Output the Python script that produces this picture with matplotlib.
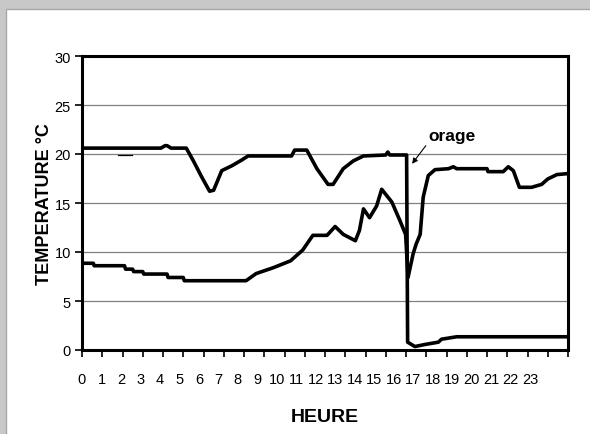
"""
Températures sur 24 h avec le passage de l'orage vers 16 h.
"""

import matplotlib
matplotlib.use("Agg")
import matplotlib.pyplot as plt
from matplotlib.patches import Rectangle

# --- données (heure, °C) ---
heure_haut = [0.0, 3.9, 4.1, 4.2, 4.4, 5.15, 5.5, 5.9, 6.3, 6.5, 6.9, 7.4, 7.9, 8.2,
              10.35, 10.5, 11.1, 11.6, 12.15, 12.4, 12.9, 13.4, 13.9, 15.0, 15.1,
              15.2, 16.03, 16.08, 16.44, 16.9, 17.6, 17.75, 18.5, 24.0]
temp_haut = [20.6, 20.6, 20.85, 20.85, 20.6, 20.6, 19.3, 17.7, 16.2, 16.3, 18.3, 18.8,
             19.4, 19.8, 19.8, 20.4, 20.4, 18.5, 16.9, 16.9, 18.5, 19.3, 19.8, 19.9,
             20.2, 19.9, 19.9, 0.8, 0.35, 0.55, 0.8, 1.1, 1.35, 1.35]

heure_bas = [0.0, 0.56, 0.6, 2.1, 2.15, 2.5, 2.55, 3.0, 3.05, 4.2, 4.25, 5.0, 5.05,
             8.1, 8.6, 9.45, 10.3, 10.9, 11.4, 12.1, 12.5, 12.9, 13.5, 13.7, 13.9,
             14.2, 14.55, 14.8, 15.3, 15.7, 15.98, 16.1, 16.35, 16.5, 16.7, 16.85,
             17.1, 17.43, 18.1, 18.34, 18.5, 20.0, 20.05, 20.8, 21.05, 21.3, 21.6,
             22.2, 22.7, 23.0, 23.45, 24.0]
temp_bas = [8.85, 8.85, 8.6, 8.6, 8.25, 8.25, 8.0, 8.0, 7.75, 7.75, 7.4, 7.4, 7.07,
            7.07, 7.8, 8.4, 9.1, 10.2, 11.7, 11.7, 12.6, 11.8, 11.15, 12.2, 14.4,
            13.5, 14.7, 16.4, 15.1, 13.2, 11.8, 7.4, 9.8, 10.8, 11.8, 15.6, 17.8,
            18.4, 18.5, 18.7, 18.5, 18.5, 18.2, 18.2, 18.7, 18.3, 16.6, 16.6, 16.9,
            17.45, 17.9, 18.0]

# petit trait isolé vers 2 h
heure_trait = [1.8, 2.48]
temp_trait = [19.9, 19.9]

heures_labels = [str(h) for h in range(24)]
y_ticks = [0, 5, 10, 15, 20, 25, 30]

FONT = "Liberation Sans"

# --- figure ---
fig = plt.figure(figsize=(5.9, 4.35), dpi=100)
fig.patch.set_facecolor("#c8c8c8")
fig.patches.append(Rectangle((6 / 590, -0.01), 1, 0.01 + (435 - 10) / 435,
                             transform=fig.transFigure, facecolor="white",
                             edgecolor="#a8a8a8", lw=1, zorder=-5))

ax = fig.add_axes([82 / 590, (435 - 351) / 435, (568 - 82) / 590, (351 - 57) / 435])
ax.set_facecolor("white")

ax.plot(heure_haut, temp_haut, color="black", lw=2.6, solid_joinstyle="round", zorder=3)
ax.plot(heure_bas, temp_bas, color="black", lw=2.6, solid_joinstyle="round", zorder=3)
ax.plot(heure_trait, temp_trait, color="black", lw=0.9, zorder=3)

ax.set_xlim(0, 24)
ax.set_ylim(0, 30)

# axe Y
ax.set_yticks(y_ticks)
ax.set_yticklabels([str(v) for v in y_ticks], fontsize=10.5, family=FONT)
ax.tick_params(axis="y", direction="out", length=5, width=1.2, pad=3)
ax.grid(axis="y", color="#808080", lw=0.9)
ax.set_axisbelow(True)

# axe X : graduations aux heures, étiquettes un peu resserrées (comme Excel)
ax.xaxis.remove_overlapping_locs = False
ax.set_xticks(range(25))
ax.set_xticklabels([])
ax.tick_params(axis="x", which="major", direction="out", length=5, width=1.2,
               color="black")
ax.set_xticks([h * 0.962 for h in range(24)], minor=True)
ax.set_xticklabels(heures_labels, minor=True, fontsize=10.5, family=FONT)
ax.tick_params(axis="x", which="minor", length=0, pad=16)

for s in ax.spines.values():
    s.set_linewidth(2.2)
    s.set_color("black")

ax.set_xlabel("HEURE", fontsize=14, fontweight="bold", family=FONT, labelpad=16)
ax.set_ylabel("TEMPERATURE °C", fontsize=13, fontweight="bold", family=FONT, labelpad=1)

ax.annotate("orage", xy=(16.3, 19.0), xytext=(18.25, 21.9),
            ha="center", va="center", fontsize=12.5, fontweight="bold", family=FONT,
            arrowprops=dict(arrowstyle="-|>", color="black", lw=0.8,
                            mutation_scale=8, relpos=(0.0, 0.0),
                            shrinkA=0, shrinkB=0))

fig.savefig("out.png", dpi=100, facecolor=fig.get_facecolor())
